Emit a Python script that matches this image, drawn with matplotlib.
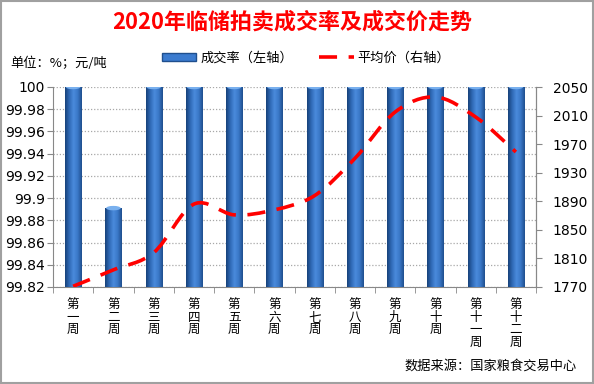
import numpy as np
import matplotlib
matplotlib.use("Agg")
import matplotlib.pyplot as plt
from matplotlib.path import Path
from matplotlib.patches import PathPatch, Patch, Rectangle, Ellipse
from matplotlib.lines import Line2D
from matplotlib.colors import LinearSegmentedColormap

plt.rcParams['font.family'] = ['DejaVu Sans', 'Noto Sans CJK SC']
CJK = ['Noto Sans CJK SC', 'DejaVu Sans']

weeks = ["第一周", "第二周", "第三周", "第四周", "第五周", "第六周",
         "第七周", "第八周", "第九周", "第十周", "第十一周", "第十二周"]
rates = [100, 99.891, 100, 100, 100, 100, 100, 100, 100, 100, 100, 100]
prices = [1771, 1794, 1818, 1886, 1871, 1878, 1898, 1950, 2015, 2036, 2008, 1959]
left_ticks = [99.82, 99.84, 99.86, 99.88, 99.9, 99.92, 99.94, 99.96, 99.98, 100]
right_ticks = [1770, 1810, 1850, 1890, 1930, 1970, 2010, 2050]

fig = plt.figure(figsize=(5.94, 3.84), dpi=100)
ax = fig.add_axes([53/594, 1-287/384, (536-53)/594, (287-87)/384])
ax2 = ax.twinx()

x = np.arange(len(weeks))
ymin, ymax = left_ticks[0], left_ticks[-1]
bw = 0.4
bars = ax.bar(x, rates, width=bw, color='#3b7bcf', zorder=2)
cmap = LinearSegmentedColormap.from_list('cyl', ['#17427a', '#2f69b5', '#4a8bdc', '#3a78c8', '#1f4f8e'])
grad = np.linspace(0, 1, 64).reshape(1, -1)
for b in bars:
    x0 = b.get_x(); x1 = x0 + b.get_width(); top = b.get_height()
    im = ax.imshow(grad, extent=[x0, x1, ymin, top], aspect='auto', cmap=cmap,
                   zorder=3, interpolation='bilinear')
    im.set_clip_path(b)
    ax.add_patch(Ellipse(((x0 + x1) / 2, top), b.get_width() * 0.9, 0.004,
                         facecolor='#79b0ee', edgecolor='none', zorder=4, clip_on=True))

ax.set_xlim(-0.5, len(weeks) - 0.5)
ax.set_ylim(ymin, ymax)
ax.set_yticks(left_ticks, [f"{v:g}" for v in left_ticks])
ax.grid(axis='y', color='#a8a8a8', linestyle=(0, (1, 1.5)), linewidth=0.9, zorder=0)
ax.set_axisbelow(True)

ax.set_xticks(x, ["\n".join([w[0], w[1:-1], w[-1]]) if len(w) == 3 else "\n".join([w[0], w[1], w[2], w[3]]) for w in weeks])
for lab in ax.get_xticklabels():
    lab.set_fontfamily(CJK)
    lab.set_fontsize(9)
    lab.set_linespacing(0.95)
ax.tick_params(axis='x', which='major', length=0, pad=8)
ax.set_xticks(np.arange(-0.5, len(weeks) + 0.5, 1), minor=True)
ax.tick_params(axis='x', which='minor', length=4, color='#888888', direction='out')
ax.tick_params(axis='y', length=4, color='#888888', labelsize=10, pad=2)

ax2.set_ylim(right_ticks[0], right_ticks[-1])
ax2.set_yticks(right_ticks, [str(v) for v in right_ticks])
ax2.tick_params(axis='y', length=4, color='#888888', labelsize=10, pad=8)

for a in (ax, ax2):
    for s in ('top',):
        a.spines[s].set_visible(False)
    for s in ('left', 'right', 'bottom'):
        a.spines[s].set_color('#888888')
ax2.spines['left'].set_visible(False)
ax2.spines['bottom'].set_visible(False)

# smooth (Catmull-Rom style) line through the price points
P = np.column_stack([x.astype(float), np.array(prices, float)])
verts = [tuple(P[0])]
codes = [Path.MOVETO]
n = len(P)
for i in range(n - 1):
    p0 = P[max(i - 1, 0)]; p1 = P[i]; p2 = P[i + 1]; p3 = P[min(i + 2, n - 1)]
    c1 = p1 + (p2 - p0) / 6.0
    c2 = p2 - (p3 - p1) / 6.0
    verts += [tuple(c1), tuple(c2), tuple(p2)]
    codes += [Path.CURVE4] * 3
ax2.add_patch(PathPatch(Path(verts, codes), fill=False, edgecolor='#ff0000',
                        linewidth=2.6, linestyle=(0, (5, 3.2)), capstyle='butt', zorder=5))
ax2.set_zorder(ax.get_zorder() + 1)
ax2.patch.set_visible(False)

fig.text(0.492, 1 - 22/384, "2020年临储拍卖成交率及成交价走势", color='#ff0000',
         fontsize=15.8, fontweight='bold', ha='center', va='center', family=CJK)
fig.text(10/594, 1 - 63/384, "单位：%；元/吨", fontsize=9.5, ha='left', va='center', family=CJK)

handles = [Patch(facecolor='#3b7bcf', edgecolor='#1f4f8e'),
           Line2D([0], [0], color='#ff0000', linewidth=2.6, linestyle=(0, (5, 3.2)))]
leg = fig.legend(handles, ["成交率（左轴）", "平均价（右轴）"], ncol=2, frameon=False,
                 loc='center', bbox_to_anchor=(306/594, 1 - 58/384), prop={'family': CJK, 'size': 9.5},
                 handlelength=2.6, handleheight=0.5, columnspacing=2.0, handletextpad=0.3)

fig.text(577/594, 1 - 366/384, "数据来源：国家粮食交易中心", fontsize=9.5, ha='right', va='center', family=CJK)

fig.patches.append(Rectangle((0.002, 0.003), 0.996, 0.994, transform=fig.transFigure,
                             fill=False, edgecolor='#a0a0a0', linewidth=1.5))

fig.savefig("out.png", dpi=100)
